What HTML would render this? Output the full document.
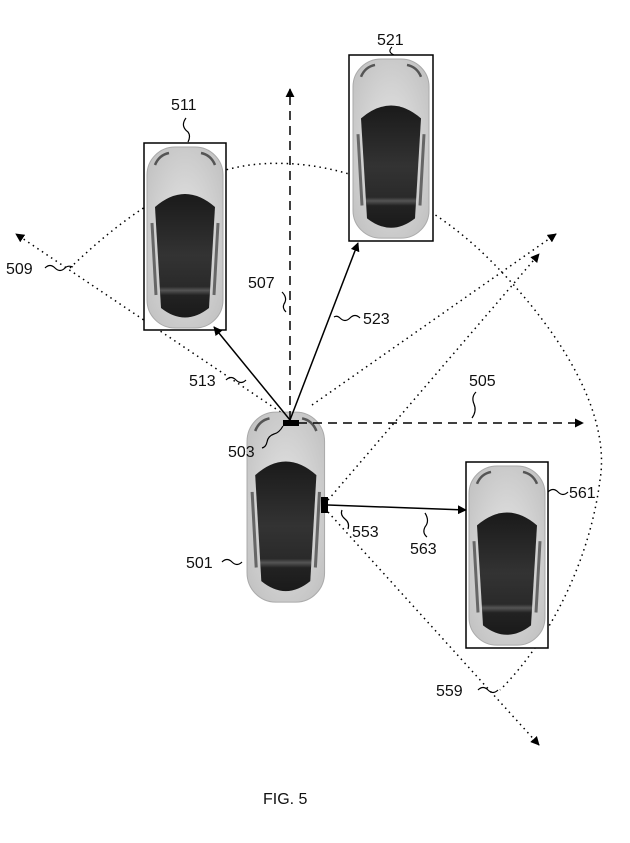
<!DOCTYPE html>
<html><head><meta charset="utf-8"><style>
html,body{margin:0;padding:0;background:#fff}
text{font-family:"Liberation Sans",sans-serif;font-size:16px;fill:#111}
</style></head><body>
<svg width="630" height="838" viewBox="0 0 630 838" xmlns="http://www.w3.org/2000/svg">
<defs>
<marker id="ah" viewBox="0 0 10 10" refX="9" refY="5" markerWidth="9" markerHeight="9" orient="auto" markerUnits="userSpaceOnUse"><path d="M0,0 L10,5 L0,10 z" fill="#000"/></marker>
<radialGradient id="bg" cx="50%" cy="50%" r="60%"><stop offset="0" stop-color="#e6e6e6"/><stop offset="1" stop-color="#c4c4c4"/></radialGradient>
<linearGradient id="cab" x1="0" y1="0" x2="0" y2="1"><stop offset="0" stop-color="#1a1a1a"/><stop offset="0.5" stop-color="#333"/><stop offset="0.75" stop-color="#2a2a2a"/><stop offset="0.78" stop-color="#555"/><stop offset="0.82" stop-color="#222"/><stop offset="1" stop-color="#1a1a1a"/></linearGradient>
<g id="car">
<rect x="2" y="2" width="76" height="181" rx="28" fill="url(#bg)" stroke="#aaa" stroke-width="1"/>
<path d="M10,62 Q40,36 70,62 L64,163 Q40,182 16,163 Z" fill="url(#cab)"/>
<path d="M7,78 L11,150 M73,78 L69,150" stroke="#666" stroke-width="3" fill="none"/>
<path d="M10,20 Q14,10 24,8 M70,20 Q66,10 56,8" stroke="#555" stroke-width="2.5" fill="none"/>
</g>
</defs>

<path d="M70,268 C120,220 180,175 250,165 C330,155 420,190 490,260 C570,340 610,420 600,480 C590,560 550,640 500,690" fill="none" stroke="#000" stroke-width="1.5" stroke-dasharray="1.5 4"/>

<g stroke="#000" stroke-width="1.5" stroke-dasharray="1.5 4" fill="none">
<line x1="285" y1="415" x2="16" y2="234" marker-end="url(#ah)"/>
<line x1="312" y1="405" x2="556" y2="234" marker-end="url(#ah)"/>
<line x1="328" y1="500" x2="539" y2="254" marker-end="url(#ah)"/>
<line x1="328" y1="512" x2="539" y2="745" marker-end="url(#ah)"/>
</g>

<rect x="144" y="143" width="82" height="187" fill="#fff" stroke="#000" stroke-width="1.5"/>
<use href="#car" transform="translate(145,145)"/>
<rect x="349" y="55" width="84" height="186" fill="#fff" stroke="#000" stroke-width="1.5"/>
<use href="#car" transform="translate(351,57) scale(1,0.99)"/>
<rect x="466" y="462" width="82" height="186" fill="#fff" stroke="#000" stroke-width="1.5"/>
<use href="#car" transform="translate(467,464) scale(1,0.99)"/>
<use href="#car" transform="translate(245,410) scale(1.02,1.05)"/>

<g stroke="#000" stroke-width="1.5" stroke-dasharray="9 6" fill="none">
<line x1="290" y1="420" x2="290" y2="89" marker-end="url(#ah)"/>
<line x1="298" y1="423" x2="583" y2="423" marker-end="url(#ah)"/>
</g>
<g stroke="#000" stroke-width="1.5" fill="none">
<line x1="290" y1="420" x2="214" y2="327" marker-end="url(#ah)"/>
<line x1="290" y1="420" x2="358" y2="243" marker-end="url(#ah)"/>
<line x1="328" y1="505" x2="466" y2="510" marker-end="url(#ah)"/>
</g>
<rect x="283" y="420" width="16" height="6" fill="#000"/>
<rect x="321" y="497" width="7" height="16" fill="#000"/>

<g stroke="#000" stroke-width="1.2" fill="none">
<path d="M392,47 q-5,5 2,8"/>
<path d="M186,118 q-6,8 2,14 q3,4 0,10"/>
<path d="M45,268 q5,-5 10,0 q5,5 10,0 q3,-3 8,-1"/>
<path d="M282,292 q6,6 2,12 q-2,4 2,8"/>
<path d="M360,318 q-5,-5 -10,0 q-5,5 -10,0 q-3,-3 -6,-1"/>
<path d="M226,380 q5,-5 10,0 q5,5 10,0"/>
<path d="M476,392 q-5,5 -2,12 q3,7 -2,14"/>
<path d="M262,448 q4,-1 5,-6 q1,-6 7,-8 q5,-1 9,-8"/>
<path d="M548,492 q5,-5 10,0 q5,5 10,0"/>
<path d="M342,510 q-2,5 3,9 q5,4 3,10"/>
<path d="M425,513 q5,8 0,14 q-3,6 2,10"/>
<path d="M222,562 q5,-5 10,0 q5,5 10,0"/>
<path d="M478,690 q5,-5 10,0 q5,5 10,0"/>
</g>

<text x="377" y="45">521</text>
<text x="171" y="110">511</text>
<text x="6" y="274">509</text>
<text x="248" y="288">507</text>
<text x="363" y="324">523</text>
<text x="189" y="386">513</text>
<text x="469" y="386">505</text>
<text x="228" y="457">503</text>
<text x="569" y="498">561</text>
<text x="352" y="537">553</text>
<text x="410" y="554">563</text>
<text x="186" y="568">501</text>
<text x="436" y="696">559</text>
<text x="263" y="804">FIG. 5</text>
</svg>
</body></html>
